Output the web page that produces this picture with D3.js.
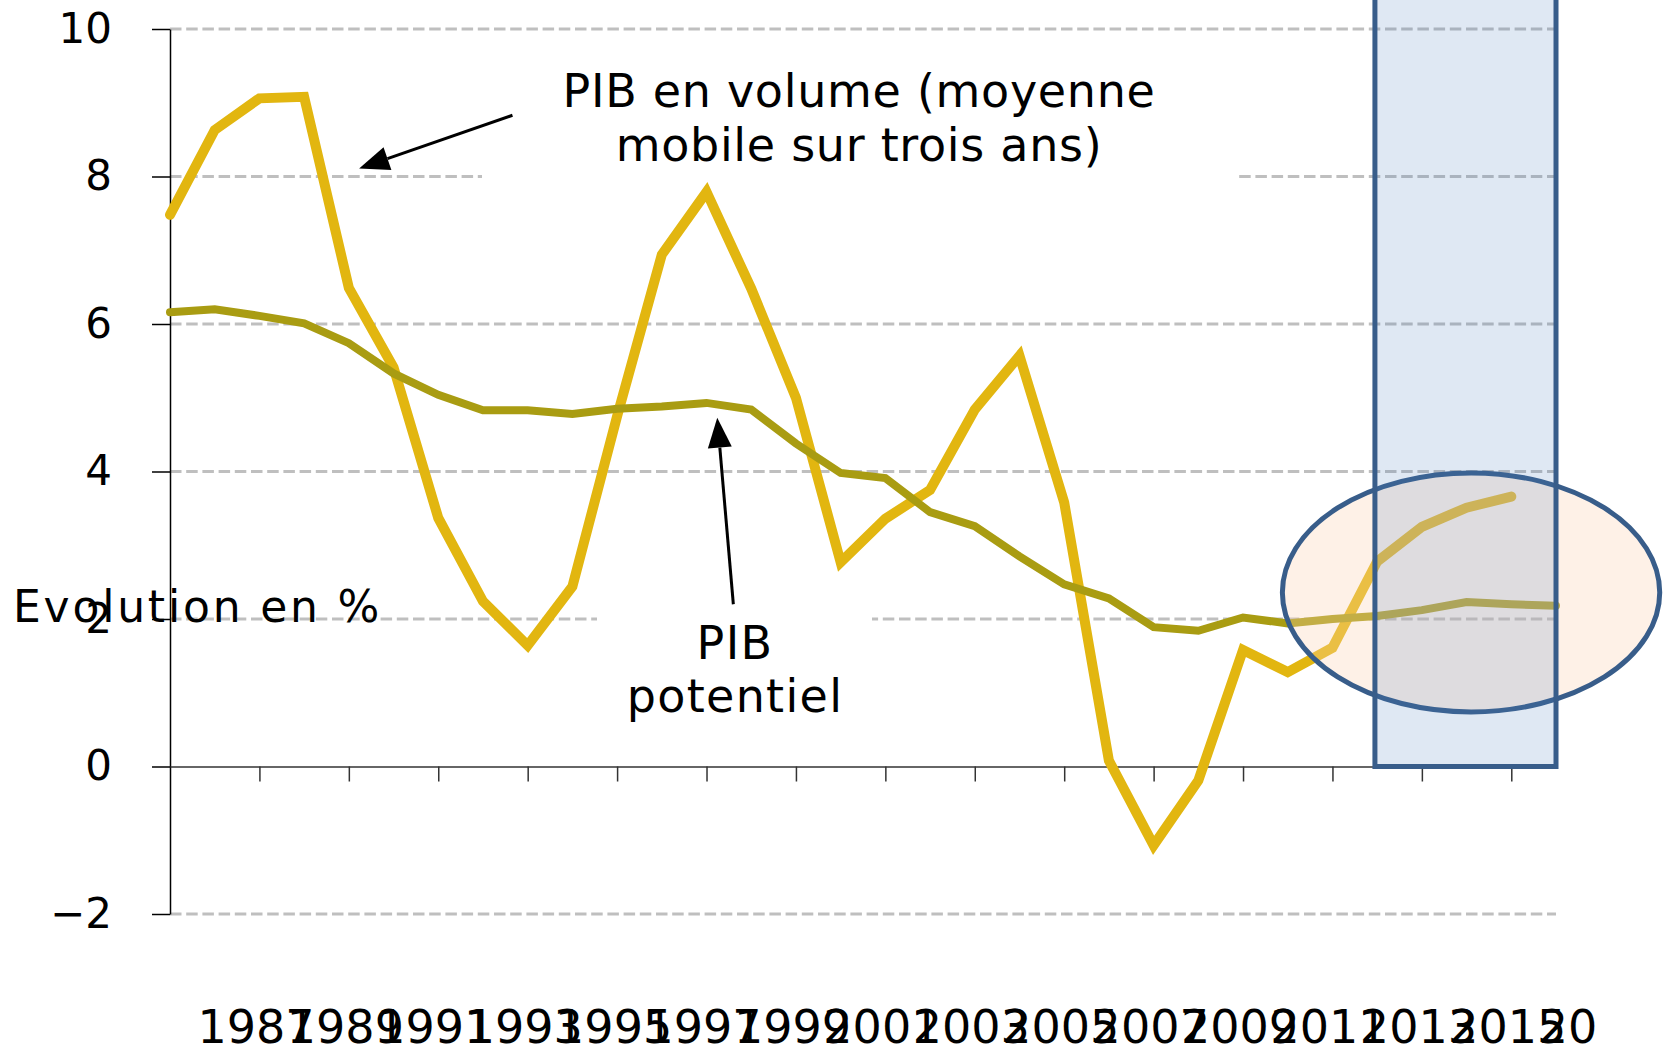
<!DOCTYPE html>
<html>
<head>
<meta charset="utf-8">
<script src="https://cdn.jsdelivr.net/npm/d3@7"></script>
<style>
body { margin: 0; background: #fff; }
text { font-family: "DejaVu Sans", sans-serif; fill: #000; }
</style>
</head>
<body>
<svg id="chart" width="1672" height="1047"></svg>
<script>
// data, % per year
years = d3.range(1985, 2017)
pibVolume = [7.48, 8.63, 9.06, 9.08, 6.49, 5.41, 3.37, 2.24, 1.64, 2.44,
             4.75, 6.94, 7.79, 6.48, 5.0, 2.77, 3.36, 3.75, 4.84, 5.57,
             3.58, 0.08, -1.07, -0.19, 1.58, 1.28, 1.61, 2.78, 3.25, 3.51,
             3.66, null]
pibPotentiel = [6.16, 6.2, 6.11, 6.01, 5.74, 5.33, 5.04, 4.83, 4.83, 4.78,
                4.85, 4.88, 4.93, 4.84, 4.38, 3.98, 3.91, 3.45, 3.26, 2.85,
                2.47, 2.28, 1.89, 1.84, 2.02, 1.94, 2.0, 2.04, 2.12, 2.23,
                2.2, 2.18]
yTicks = [-2, 0, 2, 4, 6, 8, 10]
xTickYears = [1987, 1989, 1991, 1993, 1995, 1997, 1999, 2001, 2003, 2005,
              2007, 2009, 2011, 2013, 2015, 2017]
xTickLabels = ['1987', '1989', '1991', '1993', '1995', '1997', '1999', '2001',
               '2003', '2005', '2007', '2009', '2011', '2013', '2015', '20']

// forecast zone and the circled part
highlightYears = [2011.95, 2016]
circle = {year: 2014.1, value: 2.36, rYears: 4.22, rValue: 1.62}

var svg = d3.select("#chart")
var x = d3.scaleLinear().domain([1985, 2016]).range([170, 1556])
var y = d3.scaleLinear().domain([-2, 10]).range([914, 29])

svg.append("rect").attr("width", 1672).attr("height", 1047).attr("fill", "#fff")

// dashed grid
svg.append("g")
    .selectAll("line")
    .data(yTicks.filter(d => d !== 0))
    .enter()
        .append("line")
        .attr("x1", x(1985)).attr("x2", x(2016))
        .attr("y1", d => y(d)).attr("y2", d => y(d))
        .attr("stroke", "#bfbfbf")
        .attr("stroke-width", 3)
        .attr("stroke-dasharray", "11.5,4.7")

// white boxes behind the callout texts
svg.append("rect").attr("x", 482).attr("y", 40).attr("width", 755).attr("height", 145).attr("fill", "#fff")
svg.append("rect").attr("x", 597).attr("y", 595).attr("width", 275).attr("height", 135).attr("fill", "#fff")

// y axis
var yAxis = svg.append("g")
    .attr("transform", "translate(" + x(1985) + ",0)")
    .call(d3.axisLeft(y).tickValues(yTicks).tickSize(18).tickSizeOuter(0).tickPadding(40)
        .tickFormat(d => d < 0 ? "\u2212" + Math.abs(d) : d))
yAxis.select(".domain").attr("stroke", "#000").attr("stroke-width", 1.5)
yAxis.selectAll(".tick line").attr("stroke", "#000").attr("stroke-width", 1.5)
yAxis.selectAll("text").attr("font-size", 42).attr("font-family", "DejaVu Sans").attr("fill", "#000")

// x axis at zero, labels sit at the very bottom
var xAxis = svg.append("g")
    .attr("transform", "translate(0," + y(0) + ")")
    .call(d3.axisBottom(x).tickValues(xTickYears.filter(d => d <= 2016)).tickSize(15).tickSizeOuter(0).tickFormat(""))
xAxis.select(".domain").attr("stroke", "#333").attr("stroke-width", 1.5)
xAxis.selectAll(".tick line").attr("stroke", "#333").attr("stroke-width", 1.5)

svg.append("g")
    .selectAll("text")
    .data(xTickYears)
    .enter()
        .append("text")
        .attr("x", d => x(d) - 62)
        .attr("y", 1043)
        .attr("font-size", 46)
        .text((d, i) => xTickLabels[i])

// series
var line = d3.line()
    .defined(d => d[1] !== null)
    .x(d => x(d[0]))
    .y(d => y(d[1]))

svg.append("path")
    .datum(years.map((d, i) => [d, pibVolume[i]]))
    .attr("d", line)
    .attr("fill", "none")
    .attr("stroke", "#e2b610")
    .attr("stroke-width", 10)
    .attr("stroke-linecap", "round")

svg.append("path")
    .datum(years.map((d, i) => [d, pibPotentiel[i]]))
    .attr("d", line)
    .attr("fill", "none")
    .attr("stroke", "#a99c12")
    .attr("stroke-width", 8)
    .attr("stroke-linecap", "round")

// circled area then the shaded forecast band on top
svg.append("ellipse")
    .attr("cx", x(circle.year))
    .attr("cy", y(circle.value))
    .attr("rx", x(1985 + circle.rYears) - x(1985))
    .attr("ry", y(0) - y(circle.rValue))
    .attr("fill", "#fbd5b5")
    .attr("fill-opacity", 0.32)
    .attr("stroke", "#385d8a")
    .attr("stroke-width", 5)

svg.append("rect")
    .attr("x", x(highlightYears[0]))
    .attr("y", y(10.6))
    .attr("width", x(highlightYears[1]) - x(highlightYears[0]))
    .attr("height", y(0) - y(10.6))
    .attr("fill", "#4f81bd")
    .attr("fill-opacity", 0.18)
    .attr("stroke", "#385d8a")
    .attr("stroke-width", 5)

// callouts
function arrow(from, to) {
    var x0 = x(from[0]), y0 = y(from[1]), x1 = x(to[0]), y1 = y(to[1])
    var len = Math.hypot(x1 - x0, y1 - y0)
    var ux = (x1 - x0) / len, uy = (y1 - y0) / len
    var head = 30, half = 12
    var bx = x1 - ux * head, by = y1 - uy * head
    svg.append("line")
        .attr("x1", x0).attr("y1", y0).attr("x2", bx).attr("y2", by)
        .attr("stroke", "#000").attr("stroke-width", 3)
    svg.append("path")
        .attr("d", "M" + x1 + "," + y1 +
                   "L" + (bx - uy * half) + "," + (by + ux * half) +
                   "L" + (bx + uy * half) + "," + (by - ux * half) + "Z")
        .attr("fill", "#000")
}
arrow([1992.66, 8.83], [1989.23, 8.11])
arrow([1997.6, 2.2], [1997.24, 4.73])

svg.append("text").attr("x", 859).attr("y", 107).attr("text-anchor", "middle")
    .attr("font-size", 46).attr("letter-spacing", 0.7).text("PIB en volume (moyenne")
svg.append("text").attr("x", 859).attr("y", 161).attr("text-anchor", "middle")
    .attr("font-size", 46).attr("letter-spacing", 0.7).text("mobile sur trois ans)")

svg.append("text").attr("x", 735).attr("y", 659).attr("text-anchor", "middle")
    .attr("font-size", 46).attr("letter-spacing", 1.3).text("PIB")
svg.append("text").attr("x", 735).attr("y", 712).attr("text-anchor", "middle")
    .attr("font-size", 46).attr("letter-spacing", 1.3).text("potentiel")

svg.append("text").attr("x", 13).attr("y", 622)
    .attr("font-size", 44).attr("letter-spacing", 2.8).text("Evolution en %")
</script>
</body>
</html>
